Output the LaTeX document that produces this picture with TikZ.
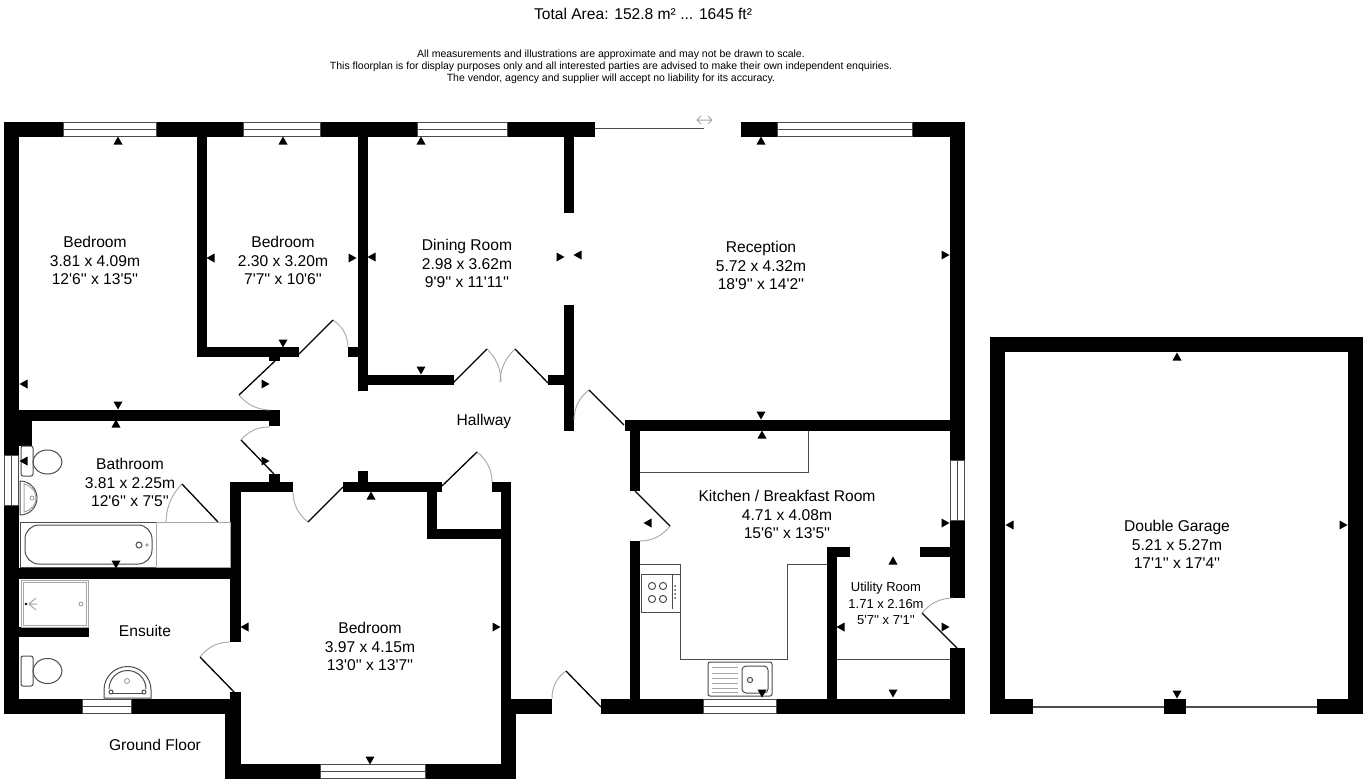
\documentclass[tikz,border=0pt]{standalone}
\usepackage{fontspec}
\newfontfamily\planfont{Liberation Sans}
\definecolor{fixture}{gray}{0.3}
\definecolor{swing}{gray}{0.65}
\tikzset{>=latex, wall/.style = {fill=black},
	window/.style = {draw=fixture, fill=white, line width=1pt},
	fixline/.style = {draw=fixture, line width=1pt},
	fixgray/.style = {draw=swing, line width=1pt},
	doorleaf/.style = {draw=black, line width=1.3pt},
	doorswing/.style = {draw=swing, line width=0.9pt},
	room/.style = {font=\planfont\fontsize{15.6}{18.5}\selectfont, align=center, inner sep=0pt},
	smallroom/.style = {font=\planfont\fontsize{13}{16.2}\selectfont, align=center, inner sep=0pt}}

\begin{document}
\begin{tikzpicture}[x=1pt,y=-1pt]
	\useasboundingbox (0,0) rectangle (1371,784);
	\node[room] (total) at (643,13.5) {Total Area: 152.8 m² ... 1645 ft²};
	\node[font=\planfont\fontsize{10.5}{12}\selectfont,align=center,inner sep=0pt] (disclaimer) at (611,66.5)
	{All measurements and illustrations are approximate and may not be drawn to scale.\\
	This floorplan is for display purposes only and all interested parties are advised to make their own independent enquiries.\\
	The vendor, agency and supplier will accept no liability for its accuracy.};

	\foreach \xa/\ya/\xb/\yb in {4/122/595/137, 741/122/965/137, 4/122/19/714, 4/699/241/714,
		950/122/965/431, 625/420/965/431, 950/431/965/598, 950/648/965/714, 601/699/965/714,
		197/137/207/357, 197/347/299/357, 269/347/280/361, 358/137/368/391, 348/347/358/357,
		368/375/454/385, 564/137/574/213, 564/305/574/431, 548/375/564/385,
		19/410/280/421, 269/410/280/426, 19/421/32/446, 19/568/231/579, 19/627/89/637,
		230/482/241/642, 230/692/241/714, 225/714/241/779, 225/764/516/779,
		231/482/293/492, 269/474/280/492, 343/482/442/492, 358/471/368/482, 492/482/511/492,
		427/482/437/539, 427/529/501/539, 501/482/511/714, 501/699/552/714, 501/714/516/779,
		630/431/640/491, 630/541/640/699, 827/547/837/699, 827/547/850/557, 920/547/950/557,
		990/337/1363/352, 990/337/1005/714, 1348/337/1363/714,
		990/699/1033/714, 1164/699/1186/714, 1317/699/1363/714}
	\fill[wall] (\xa,\ya) rectangle (\xb,\yb);

	\foreach \xa/\ya/\xb/\yb in {63/122/157/137, 243/122/321/137, 417/122/508/137, 777/122/913/137,
		82/699/132/714, 703/699/777/714, 320/764/426/779}
	{
		\draw[window] (\xa+0.5,\ya+0.5) rectangle (\xb-0.5,\yb-0.5);
		\draw[window] (\xa,{(\ya+\yb)/2}) -- (\xb,{(\ya+\yb)/2});
	}
	\foreach \xa/\ya/\xb/\yb in {4/455/19/506, 950/460/965/521}
	{
		\draw[window] (\xa+0.5,\ya+0.5) rectangle (\xb-0.5,\yb-0.5);
		\draw[window] ({(\xa+\xb)/2},\ya) -- ({(\xa+\xb)/2},\yb);
	}
	\draw[fixline] (595,128) -- (704,128);
	\draw[fixgray] (701,116) -- (697,120) -- (701,124) (697,120) -- (712,120) (708,116) -- (712,120) -- (708,124);
	\draw[fixline,line width=1.5pt] (1033,707) -- (1164,707) (1186,707) -- (1317,707);

	\foreach \hx/\hy/\tx/\ty/\ex/\ey in {275/361/239/395/270/410, 274/474/241/440/270/427,
		299/354/333/320/348/347, 343/487/308/522/293/492, 442/486/477/452/492/482,
		453/383/487/349/501/382, 548/383/515/349/500/382, 624/425/589/390/574/420,
		635/491/670/526/640/541, 957/648/922/613/953/598, 235/693/200/657/230/642,
		218/522/182/484/166/522, 601/707/566/671/552/699}
	{
		\pgfmathsetmacro\cx{\hx+0.586*(\tx+\ex-2*\hx)}
		\pgfmathsetmacro\cy{\hy+0.586*(\ty+\ey-2*\hy)}
		\draw[doorswing] (\tx,\ty) .. controls ({\tx+0.667*(\cx-\tx)},{\ty+0.667*(\cy-\ty)})
		and ({\ex+0.667*(\cx-\ex)},{\ey+0.667*(\cy-\ey)}) .. (\ex,\ey);
		\draw[doorleaf] (\hx,\hy) -- (\tx,\ty);
	}

	\draw[fixline] (640,472) -- (808,472) -- (808,431);
	\draw[fixline] (640,564) -- (680,564) -- (680,659) -- (787,659) -- (787,564) -- (827,564);
	\draw[fixline,fill=white] (641,574) rectangle (680,612);
	\foreach \bx/\by in {652/586, 663/586, 652/599, 663/599}
	\draw[fixline] (\bx,\by) circle (3.6);
	\draw[fixline] (672,575) -- (672,609);
	\foreach \by in {586,590,594,598}
	\fill[fixture] (675,\by) circle (1);
	\draw[fixline,rounded corners=2] (708,662) rectangle (772,696);
	\draw[fixline,rounded corners=4] (742,666) rectangle (768,693);
	\draw[fixline] (750,680) circle (2.6);
	\foreach \by in {667,673,678,683,688,692}
	\draw[swing,line width=0.9pt] (712,\by) -- (738,\by);
	\draw[fixline] (837,659) -- (950,659);

	\draw[fixline] (20,522) rectangle (156,567);
	\draw[fixgray] (156,522) rectangle (230,567);
	\draw[fixline,rounded corners=14] (25,525) rectangle (152,564);
	\draw[fixline] (139,545) circle (3);
	\draw[fixgray] (147,545) circle (1.2);

	\draw[fixline,rounded corners=2] (21,446) rectangle (33,476);
	\draw[fixline] (47.5,462) ellipse (14.5 and 12);
	\draw[fixline,rounded corners=2] (21,656) rectangle (33,686);
	\draw[fixline] (47.5,671) ellipse (14.5 and 12.5);

	\draw[fixline] (20,481) arc[start angle=-90,end angle=90,radius=17] -- cycle;
	\draw[fixgray] (24,484) .. controls (40,488) and (40,508) .. (24,512) -- cycle;
	\draw[fixgray] (32,498) circle (2);

	\draw[fixgray] (21,580) rectangle (88,627);
	\draw[fixgray] (23,582) rectangle (86,625);
	\draw[fixgray] (81,604) circle (2);
	\fill (26,604) circle (1.3);
	\draw[fixgray] (36,598) -- (29,604) -- (36,610) (29,604) -- (37,604);

	\draw[fixline] (104,698) -- (104,690) arc[start angle=180,end angle=360,radius=23.5] -- (151,698) -- cycle;
	\draw[fixline] (109,689) arc[start angle=180,end angle=360,radius=18.5];
	\draw[fixline] (109,693) -- (146,693);
	\draw[fixline,fill=white] (111,692) circle (2) (144,692) circle (2);
	\draw[fixgray] (127,681) circle (2.5);

	\foreach \mx/\my/\ma in {118/141/0, 283/141/0, 421/141/0, 761/141/0, 116/424/0, 371/496/0,
		762/435/0, 893/561/0, 1177/357/0,
		24/384/90, 211/258/90, 372/257/90, 578/255/90, 24/461/90, 245/627/90, 648/523/90,
		841/627/90, 1010/525/90,
		118/405/180, 283/343/180, 421/370/180, 761/415/180, 116/564/180, 370/760/180,
		762/693/180, 893/693/180, 1177/694/180,
		265/384/-90, 352/258/-90, 560/257/-90, 945/255/-90, 265/461/-90, 496/627/-90,
		945/523/-90, 945/627/-90, 1343/525/-90}
	\fill[shift={(\mx,\my)},rotate=\ma] (0,-4.5) -- (4.5,3.5) -- (-4.5,3.5) -- cycle;

	\node[room] (bedroomA) at (95,260.5) {Bedroom\\3.81 x 4.09m\\12'6'' x 13'5''};
	\node[room] (bedroomB) at (283,260.5) {Bedroom\\2.30 x 3.20m\\7'7'' x 10'6''};
	\node[room] (dining) at (467,263.5) {Dining Room\\2.98 x 3.62m\\9'9'' x 11'11''};
	\node[room] (reception) at (761,265.5) {Reception\\5.72 x 4.32m\\18'9'' x 14'2''};
	\node[room] (hallway) at (484,421) {Hallway};
	\node[room] (bathroom) at (130,482.5) {Bathroom\\3.81 x 2.25m\\12'6'' x 7'5''};
	\node[room] (kitchen) at (787,514.5) {Kitchen / Breakfast Room\\4.71 x 4.08m\\15'6'' x 13'5''};
	\node[room] (garage) at (1177,544.5) {Double Garage\\5.21 x 5.27m\\17'1'' x 17'4''};
	\node[room] (ensuite) at (145,630.5) {Ensuite};
	\node[room] (bedroomC) at (370,646.5) {Bedroom\\3.97 x 4.15m\\13'0'' x 13'7''};
	\node[smallroom] (utility) at (886,603.5) {Utility Room\\1.71 x 2.16m\\5'7'' x 7'1''};
	\node[room] (floor) at (155,744.5) {Ground Floor};
\end{tikzpicture}
\end{document}
